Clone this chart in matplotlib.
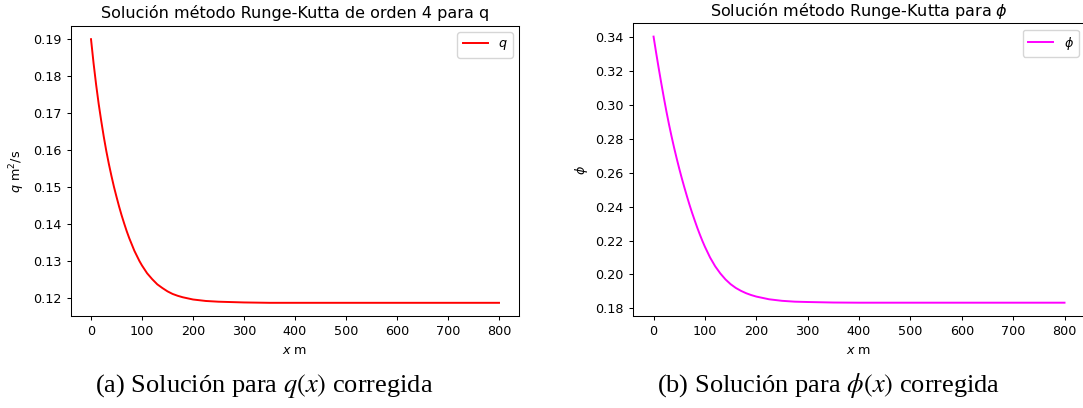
import numpy as np
import matplotlib.pyplot as plt

# valores
x_q = [0, 5, 10, 15, 20, 25, 30, 35, 40, 45, 50, 55, 60, 65, 70, 75, 80, 85,
       90, 95, 100, 110, 120, 130, 140, 150, 160, 170, 180, 190, 200, 225,
       250, 275, 300, 350, 400, 500, 600, 700, 800]
q_vals = [0.1900, 0.1835, 0.1777, 0.1725, 0.1679, 0.1636, 0.1597, 0.1562,
          0.1530, 0.1500, 0.1473, 0.1447, 0.1423, 0.1401, 0.1380, 0.1361,
          0.1344, 0.1327, 0.1313, 0.1299, 0.1287, 0.1266, 0.1250, 0.1236,
          0.1226, 0.1217, 0.1210, 0.1205, 0.1201, 0.1198, 0.1195, 0.1191,
          0.1189, 0.1188, 0.1187, 0.1186, 0.1186, 0.1186, 0.1186, 0.1186,
          0.1186]

x_phi = [0, 5, 10, 15, 20, 25, 30, 35, 40, 45, 50, 55, 60, 65, 70, 75, 80, 85,
         90, 95, 100, 110, 120, 130, 140, 150, 160, 170, 180, 190, 200, 225,
         250, 275, 300, 350, 400, 500, 600, 700, 800]
phi_vals = [0.3400, 0.3305, 0.3214, 0.3126, 0.3041, 0.2960, 0.2884, 0.2813,
            0.2746, 0.2683, 0.2623, 0.2566, 0.2512, 0.2460, 0.2410, 0.2363,
            0.2319, 0.2276, 0.2236, 0.2198, 0.2163, 0.2100, 0.2048, 0.2006,
            0.1971, 0.1943, 0.1921, 0.1904, 0.1890, 0.1879, 0.1870, 0.1854,
            0.1845, 0.1840, 0.1838, 0.1835, 0.1834, 0.1834, 0.1834, 0.1834,
            0.1834]

fs = 9.2
plt.rcParams['font.size'] = fs
plt.rcParams['xtick.major.size'] = 3.2
plt.rcParams['ytick.major.size'] = 3.2
plt.rcParams['xtick.major.width'] = 0.75
plt.rcParams['ytick.major.width'] = 0.75
plt.rcParams['axes.linewidth'] = 0.75

fig = plt.figure(figsize=(10.83, 4.08), dpi=100)

ax1 = fig.add_axes([0.0652, 0.2255, 0.4144, 0.7108])
ax1.plot(x_q, q_vals, color='red', lw=1.4, label='$q$')
ax1.set_title('Solución método Runge-Kutta de orden 4 para q', fontsize=11.5, pad=5.5)
ax1.set_xlabel('$x$ m')
ax1.set_ylabel('$q$ m$^2$/s')
ax1.set_xticks(np.arange(0, 801, 100))
ax1.legend(loc='upper right')

ax2 = fig.add_axes([0.5845, 0.2255, 0.4174, 0.7174])
ax2.plot(x_phi, phi_vals, color='magenta', lw=1.4, label=r'$\phi$')
ax2.set_title(r'Solución método Runge-Kutta para $\phi$', fontsize=11.5, pad=5.5)
ax2.set_xlabel('$x$ m')
ax2.set_ylabel(r'$\phi$')
ax2.set_xticks(np.arange(0, 801, 100))
ax2.legend(loc='upper right')

fig.text(0.244, 0.039, r'(a) Solución para $q(x)$ corregida', ha='center',
         va='baseline', fontsize=19, family='Liberation Serif', math_fontfamily='stix')
fig.text(0.765, 0.039, r'(b) Solución para $\phi(x)$ corregida', ha='center',
         va='baseline', fontsize=19, family='Liberation Serif', math_fontfamily='stix')

fig.savefig('out.png', dpi=100)
